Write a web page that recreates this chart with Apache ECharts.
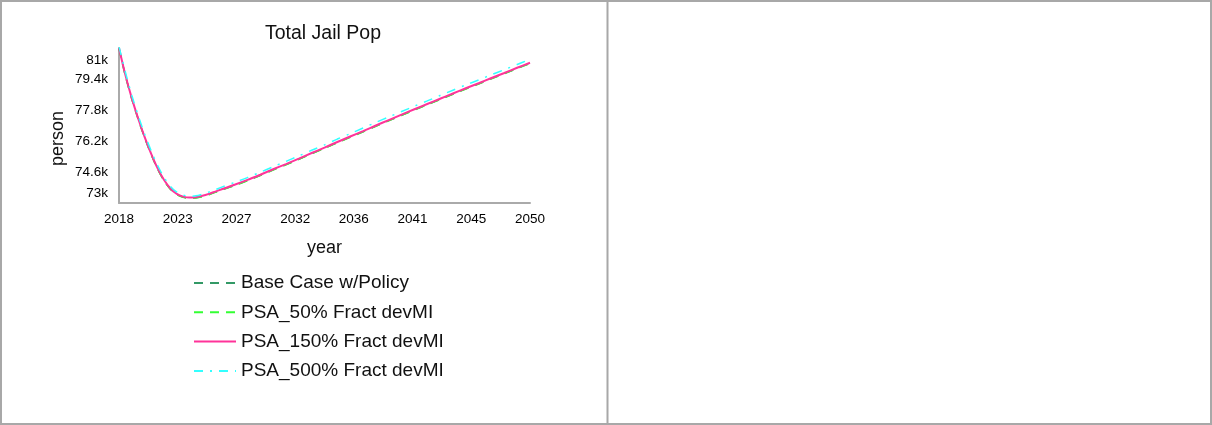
<!DOCTYPE html>
<html><head><meta charset="utf-8">
<script src="https://cdn.jsdelivr.net/npm/echarts@6/dist/echarts.min.js"></script>
<style>html,body{margin:0;padding:0;background:#fff;} #c{width:1212px;height:425px;}</style>
</head><body><div id="c"></div>
<script>
const chartTitle = 'Total Jail Pop';
const xName = 'year';
const yName = 'person';
const seriesNames = ['Base Case w/Policy', 'PSA_50% Fract devMI', 'PSA_150% Fract devMI', 'PSA_500% Fract devMI'];
const years = [2018, 2018.5, 2019, 2019.5, 2020, 2020.5, 2021, 2021.5, 2022, 2022.5, 2023, 2023.5, 2024, 2024.5, 2025, 2025.5, 2026,
  2027, 2028, 2029, 2030, 2031, 2032, 2033, 2034, 2035, 2036, 2037, 2038, 2039, 2040, 2041, 2042, 2043, 2044, 2045, 2046, 2047, 2048, 2049, 2050];
// values in thousands of persons
const baseCase = [80.98, 79.57, 78.37, 77.32, 76.37, 75.52, 74.77, 74.17, 73.72, 73.44, 73.30, 73.25, 73.27, 73.34, 73.44, 73.56, 73.68,
  73.91, 74.16, 74.43, 74.71, 74.98, 75.26, 75.55, 75.83, 76.12, 76.40, 76.68, 76.97, 77.25, 77.53, 77.81, 78.08, 78.35, 78.62, 78.89, 79.15, 79.42, 79.68, 79.95, 80.21];
const psa50 = [80.97, 79.56, 78.36, 77.31, 76.36, 75.51, 74.76, 74.16, 73.71, 73.43, 73.29, 73.24, 73.26, 73.33, 73.43, 73.55, 73.67,
  73.90, 74.15, 74.42, 74.70, 74.97, 75.25, 75.54, 75.82, 76.11, 76.39, 76.67, 76.96, 77.24, 77.52, 77.80, 78.07, 78.34, 78.61, 78.88, 79.14, 79.41, 79.67, 79.94, 80.20];
const psa150 = [81.00, 79.60, 78.40, 77.35, 76.40, 75.55, 74.80, 74.20, 73.75, 73.47, 73.33, 73.28, 73.30, 73.37, 73.47, 73.59, 73.71,
  73.94, 74.19, 74.46, 74.74, 75.01, 75.29, 75.58, 75.86, 76.15, 76.43, 76.71, 77.00, 77.28, 77.56, 77.84, 78.11, 78.38, 78.65, 78.92, 79.18, 79.45, 79.71, 79.98, 80.24];
const psa500 = [81.08, 79.75, 78.55, 77.50, 76.55, 75.70, 74.95, 74.33, 73.86, 73.56, 73.40, 73.35, 73.37, 73.46, 73.57, 73.69, 73.82,
  74.06, 74.31, 74.59, 74.87, 75.15, 75.43, 75.72, 76.00, 76.30, 76.58, 76.87, 77.16, 77.44, 77.72, 78.00, 78.27, 78.55, 78.82, 79.09, 79.35, 79.62, 79.88, 80.15, 80.41];
const yTickLabels = ['73k', '74.6k', '76.2k', '77.8k', '79.4k', '81k'];
const xTickLabels = ['2018', '2023', '2027', '2032', '2036', '2041', '2045', '2050'];

// axis ranges (axes are measured as offsets from their minimum so ticks start at the minimum)
const xMin = 2018, xMax = 2050;
const yMin = 73, yMax = 81;
const xInterval = (xMax - xMin) / (xTickLabels.length - 1);
const yInterval = (yMax - yMin) / (yTickLabels.length - 1);

const colors = ['#339966', '#33ff33', '#ff3399', '#33ffff'];
const dashes = [[9, 7], [9, 7], 'solid', [9, 7, 2, 7]];
const widths = [1.5, 1.5, 2, 1.5];
const allData = [baseCase, psa50, psa150, psa500];
const font = 'Liberation Sans, Arial, sans-serif';

const chart = echarts.init(document.getElementById('c'), null, {renderer: 'canvas'});
chart.setOption({
  animation: false,
  backgroundColor: '#fff',
  title: {
    text: chartTitle, left: 318, top: 19, textAlign: 'center',
    textStyle: {fontFamily: font, fontSize: 19.5, fontWeight: 'normal', color: '#111'}
  },
  grid: {left: 119, right: 682, top: 48, bottom: 222, containLabel: false},
  xAxis: {
    type: 'value', min: 0, max: xMax - xMin, interval: xInterval,
    name: xName, nameLocation: 'middle', nameGap: 36,
    nameTextStyle: {fontFamily: font, fontSize: 18, color: '#111'},
    axisLine: {show: true, lineStyle: {color: '#aaaaaa', width: 2}},
    axisTick: {show: false},
    splitLine: {show: false},
    axisLabel: {
      showMaxLabel: true, showMinLabel: true,
      formatter: v => xTickLabels[Math.round(v / xInterval)],
      fontFamily: font, fontSize: 13.5, color: '#000', margin: 9
    }
  },
  yAxis: {
    type: 'value', min: 0, max: yMax - yMin, interval: yInterval,
    name: yName, nameLocation: 'middle', nameGap: 52, nameRotate: 90,
    nameTextStyle: {fontFamily: font, fontSize: 18, color: '#111', padding: [0, 26, 0, 0]},
    axisLine: {show: true, lineStyle: {color: '#aaaaaa', width: 2}},
    axisTick: {show: false},
    splitLine: {show: false},
    axisLabel: {
      showMaxLabel: true, showMinLabel: true,
      formatter: v => {
        const i = Math.round(v / yInterval);
        if (i === 0) return '{lo|' + yTickLabels[i] + '}';
        if (i === yTickLabels.length - 1) return '{hi|' + yTickLabels[i] + '}';
        return yTickLabels[i];
      },
      rich: {
        lo: {fontFamily: font, fontSize: 13.5, color: '#000', padding: [0, 0, 20, 0]},
        hi: {fontFamily: font, fontSize: 13.5, color: '#000', padding: [24, 0, 0, 0]}
      },
      fontFamily: font, fontSize: 13.5, color: '#000', margin: 11
    }
  },
  legend: {
    orient: 'vertical', left: 193, top: 273, padding: 0,
    itemWidth: 42, itemHeight: 14, itemGap: 9.3,
    itemStyle: {opacity: 0},
    textStyle: {fontFamily: font, fontSize: 19, color: '#111', lineHeight: 20},
    data: seriesNames
  },
  graphic: [
    {type: 'rect', shape: {x: 1, y: 1, width: 1210, height: 423}, style: {fill: null, stroke: '#a8a8a8', lineWidth: 2}, z: 100},
    {type: 'line', shape: {x1: 607.5, y1: 1, x2: 607.5, y2: 424}, style: {stroke: '#a8a8a8', lineWidth: 2}, z: 100}
  ],
  series: seriesNames.map((name, k) => ({
    name, type: 'line', showSymbol: false, symbol: 'none', smooth: 0.3,
    data: years.map((y, i) => [y - xMin, allData[k][i] - yMin]),
    lineStyle: {color: colors[k], width: widths[k], type: dashes[k]},
    itemStyle: {color: colors[k]},
    z: k + 2
  }))
});
</script></body></html>
